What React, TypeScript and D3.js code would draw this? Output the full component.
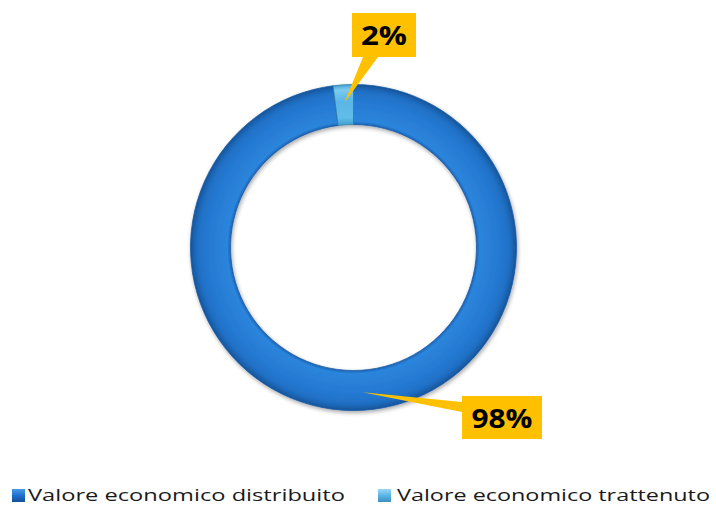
import React from "react";
import * as d3 from "d3";

const categories = ["Valore economico distribuito", "Valore economico trattenuto"];
const values = [98, 2];
const labels = ["98%", "2%"];

const W = 716;
const H = 506;
const cx = 353.5;
const cy = 247.5;
const rOuter = 163;
const rInner = 123;

export default function App() {
  const pie = d3.pie<number>().sort(null).value((d) => d)(values);
  const arc = d3.arc<d3.PieArcDatum<number>>().innerRadius(rInner).outerRadius(rOuter);
  const midArc = d3.arc<d3.PieArcDatum<number>>().innerRadius(145).outerRadius(145);
  const fills = ["url(#gMain)", "url(#gLight)"];
  const strokes = ["#1a5aa6", "#2f7fa8"];

  // callout boxes (layout)
  const boxes = [
    { x: 462, y: 396, w: 80, h: 43, base: "left" as const, b0: 402, b1: 412, textW: 61, ty: 428 },
    { x: 352, y: 13, w: 64, h: 44, base: "bottom" as const, b0: 363, b1: 378, textW: 46, ty: 45 },
  ];

  const calloutPath = (i: number) => {
    const b = boxes[i];
    const [tx, ty] = midArc.centroid(pie[i]);
    const px = cx + tx;
    const py = cy + ty;
    const p = d3.path();
    if (b.base === "left") {
      p.moveTo(b.x, b.y);
      p.lineTo(b.x + b.w, b.y);
      p.lineTo(b.x + b.w, b.y + b.h);
      p.lineTo(b.x, b.y + b.h);
      p.lineTo(b.x, b.b1);
      p.lineTo(px, py);
      p.lineTo(b.x, b.b0);
      p.closePath();
    } else {
      p.moveTo(b.x, b.y);
      p.lineTo(b.x + b.w, b.y);
      p.lineTo(b.x + b.w, b.y + b.h);
      p.lineTo(b.b1, b.y + b.h);
      p.lineTo(px, py);
      p.lineTo(b.b0, b.y + b.h);
      p.lineTo(b.x, b.y + b.h);
      p.closePath();
    }
    return p.toString();
  };

  const legendItems = [
    { mx: 12, tx: 28, tw: 317 },
    { mx: 378, tx: 397, tw: 313 },
  ];

  return (
    <svg width={W} height={H} style={{ display: "block", position: "absolute", left: 0, top: 0 }}>
      <defs>
        <radialGradient id="gMain" gradientUnits="userSpaceOnUse" cx={0} cy={0} r={rOuter}>
          <stop offset={0.75} stopColor="#1a5cab" />
          <stop offset={0.775} stopColor="#2a85dc" />
          <stop offset={0.83} stopColor="#2a7fd6" />
          <stop offset={0.9} stopColor="#2479d2" />
          <stop offset={0.96} stopColor="#1f6fc4" />
          <stop offset={1} stopColor="#175499" />
        </radialGradient>
        <radialGradient id="gLight" gradientUnits="userSpaceOnUse" cx={0} cy={0} r={rOuter}>
          <stop offset={0.75} stopColor="#3f9fd0" />
          <stop offset={0.8} stopColor="#62bce9" />
          <stop offset={0.9} stopColor="#5ab5e6" />
          <stop offset={0.97} stopColor="#7ccbf0" />
          <stop offset={1} stopColor="#4aa3d4" />
        </radialGradient>
        <linearGradient id="legMain" x1="0" y1="0" x2="0" y2="1">
          <stop offset={0} stopColor="#4b9be8" />
          <stop offset={0.5} stopColor="#1f6fd0" />
          <stop offset={1} stopColor="#154f96" />
        </linearGradient>
        <linearGradient id="legLight" x1="0" y1="0" x2="0" y2="1">
          <stop offset={0} stopColor="#9ad8f5" />
          <stop offset={0.5} stopColor="#5ab5e6" />
          <stop offset={1} stopColor="#3d8fbf" />
        </linearGradient>
        <filter id="shadow" x="-20%" y="-20%" width="140%" height="140%">
          <feGaussianBlur in="SourceAlpha" stdDeviation="2" />
          <feOffset dx="1" dy="2" result="ob" />
          <feComponentTransfer>
            <feFuncA type="linear" slope="0.35" />
          </feComponentTransfer>
          <feMerge>
            <feMergeNode />
            <feMergeNode in="SourceGraphic" />
          </feMerge>
        </filter>
      </defs>
      <rect x={0} y={0} width={W} height={H} fill="#ffffff" />
      <g transform={`translate(${cx},${cy})`} filter="url(#shadow)">
        {pie.map((d, i) => (
          <path key={i} d={arc(d) || ""} fill={fills[i]} stroke={strokes[i]} strokeWidth={0.8} />
        ))}
      </g>
      {pie.map((d, i) => (
        <g key={"c" + i}>
          <path d={calloutPath(i)} fill="#ffc000" />
          <text
            x={boxes[i].x + boxes[i].w / 2}
            y={boxes[i].ty}
            textAnchor="middle"
            fontFamily="'Open Sans', 'Liberation Sans', sans-serif"
            fontWeight="bold"
            fontSize={27}
            fill="#000"
            textLength={boxes[i].textW}
            lengthAdjust="spacingAndGlyphs"
          >
            {labels[i]}
          </text>
        </g>
      ))}
      {categories.map((c, i) => (
        <g key={"l" + i}>
          <rect x={legendItems[i].mx} y={489} width={13} height={13} fill={i === 0 ? "url(#legMain)" : "url(#legLight)"} />
          <text
            x={legendItems[i].tx}
            y={501}
            fontFamily="'Open Sans', 'Noto Sans', sans-serif"
            fontSize={17}
            fill="#1a1a1a"
            textLength={legendItems[i].tw}
            lengthAdjust="spacingAndGlyphs"
          >
            {c}
          </text>
        </g>
      ))}
    </svg>
  );
}
